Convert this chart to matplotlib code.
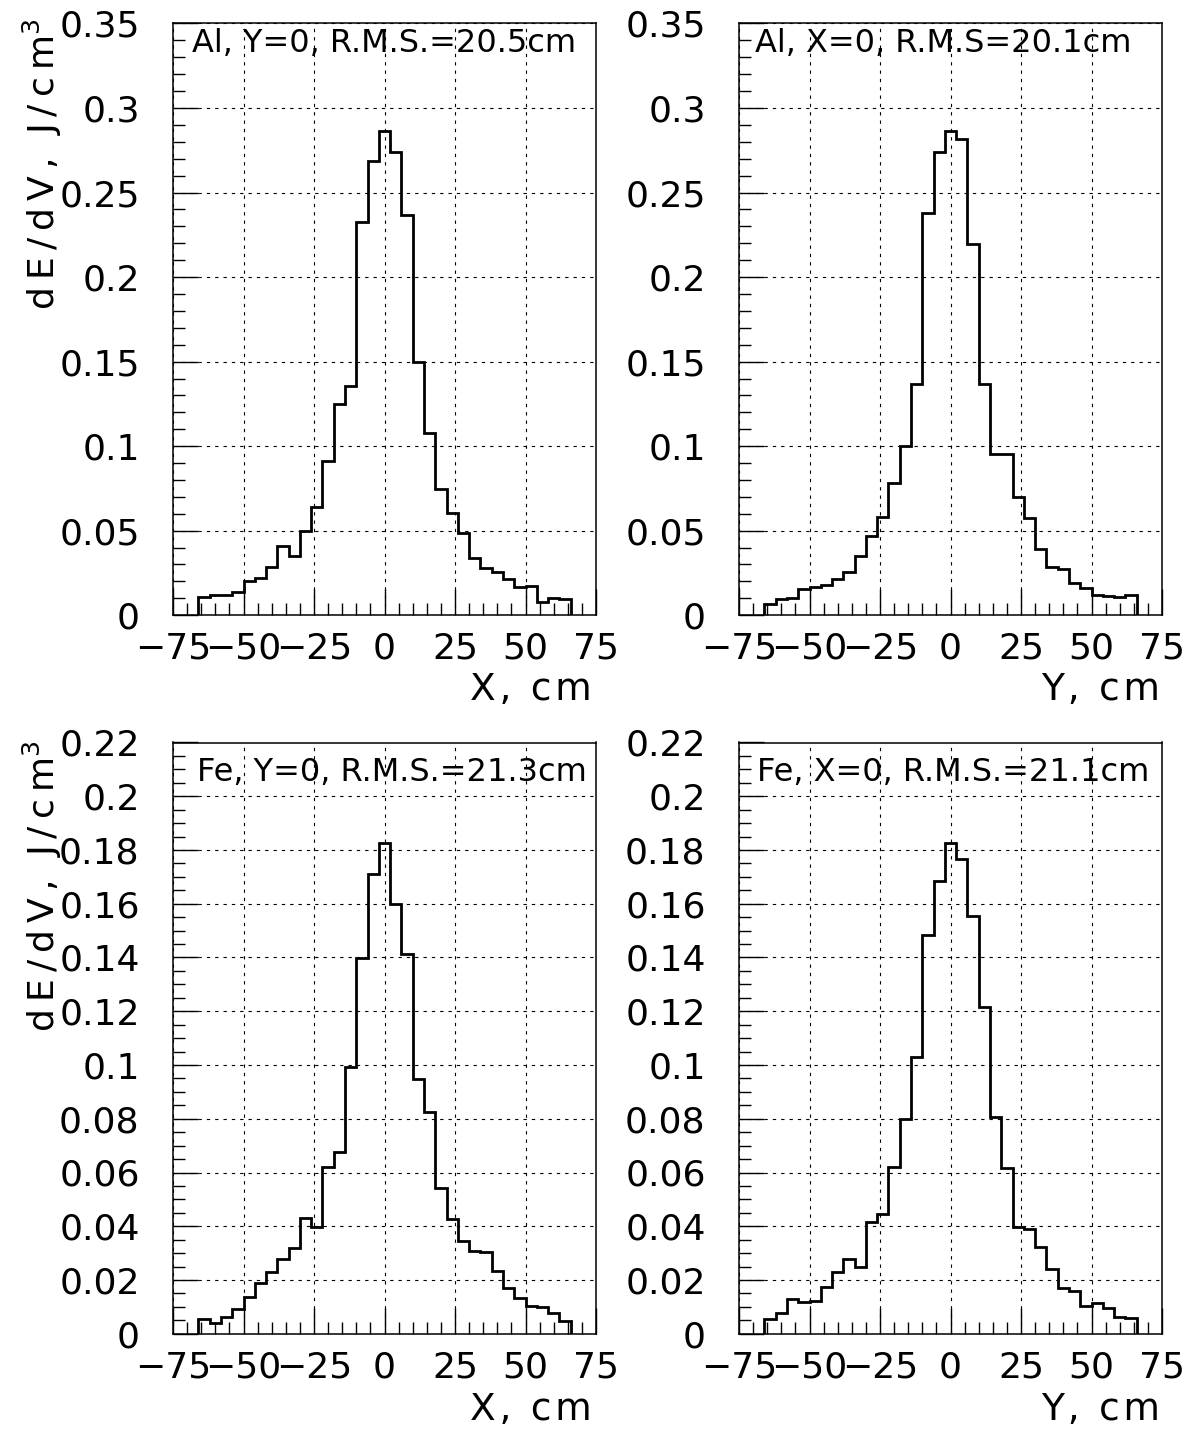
import matplotlib
matplotlib.use('Agg')
import matplotlib.pyplot as plt
from matplotlib.ticker import MultipleLocator, FuncFormatter

# ---------------- data ----------------
bin_edges = [-66, -62, -58, -54, -50, -46, -42, -38, -34, -30, -26, -22, -18, -14, -10, -6, -2,
             2, 6, 10, 14, 18, 22, 26, 30, 34, 38, 42, 46, 50, 54, 58, 62, 66]

al_y0 = [0.0110, 0.0120, 0.0120, 0.0135, 0.0202, 0.0218, 0.0287, 0.0410, 0.0352, 0.0500,
         0.0639, 0.0913, 0.1250, 0.1357, 0.2327, 0.2687, 0.2862, 0.2742, 0.2369, 0.1495,
         0.1080, 0.0745, 0.0603, 0.0488, 0.0337, 0.0281, 0.0258, 0.0212, 0.0169, 0.0173,
         0.0080, 0.0102, 0.0094]

al_x0 = [0.0066, 0.0098, 0.0104, 0.0157, 0.0165, 0.0177, 0.0214, 0.0258, 0.0349, 0.0469,
         0.0580, 0.0784, 0.1003, 0.1367, 0.2379, 0.2738, 0.2862, 0.2817, 0.2197, 0.1368,
         0.0954, 0.0954, 0.0698, 0.0573, 0.0390, 0.0283, 0.0275, 0.0192, 0.0159, 0.0121,
         0.0115, 0.0108, 0.0120]

fe_y0 = [0.0054, 0.0041, 0.0063, 0.0092, 0.0136, 0.0190, 0.0231, 0.0277, 0.0320, 0.0430,
         0.0398, 0.0619, 0.0677, 0.0994, 0.1397, 0.1710, 0.1825, 0.1599, 0.1414, 0.0947,
         0.0826, 0.0541, 0.0427, 0.0345, 0.0308, 0.0303, 0.0233, 0.0169, 0.0134, 0.0104,
         0.0101, 0.0076, 0.0047]

fe_x0 = [0.0054, 0.0078, 0.0129, 0.0117, 0.0123, 0.0175, 0.0229, 0.0278, 0.0247, 0.0414,
         0.0446, 0.0622, 0.0799, 0.1029, 0.1484, 0.1683, 0.1825, 0.1767, 0.1554, 0.1215,
         0.0808, 0.0618, 0.0396, 0.0389, 0.0322, 0.0241, 0.0169, 0.0159, 0.0104, 0.0116,
         0.0095, 0.0063, 0.0059]

titles = ["Al, Y=0, R.M.S.=20.5cm", "Al, X=0, R.M.S=20.1cm",
          "Fe, Y=0, R.M.S.=21.3cm", "Fe, X=0, R.M.S.=21.1cm"]
xlabels = ["X, cm", "Y, cm", "X, cm", "Y, cm"]
ylabel_main = "dE/dV,"
ylabel_unit = "J/cm"

# ---------------- style ----------------
plt.rcParams['font.family'] = ['DejaVu Sans']
plt.rcParams['mathtext.default'] = 'regular'


def track(s, sp='\u200a'):
    # slightly wider letter spacing, like the original stroke font
    return sp.join(s)


W, H = 1195, 1435
fig = plt.figure(figsize=(W / 100, H / 100), dpi=100)


def axrect(l, r, t, b):
    return [l / W, 1 - b / H, (r - l) / W, (b - t) / H]


rects = [axrect(173, 596, 23.5, 615.2), axrect(739, 1162, 23.5, 615.2),
         axrect(173, 596, 742.5, 1333.75), axrect(739, 1162, 742.5, 1333.75)]
series = [al_y0, al_x0, fe_y0, fe_x0]
ymax = [0.35, 0.35, 0.22, 0.22]
ymaj = [0.05, 0.05, 0.02, 0.02]
ymin = [0.01, 0.01, 0.005, 0.005]
txt_pos = [(0.045, 0.967), (0.038, 0.967), (0.057, 0.950), (0.043, 0.950)]


def yfmt(v, pos):
    return ('%g' % round(v, 4))


def xfmt(v, pos):
    return ('%d' % round(v)).replace('-', '\u2212')


for i in range(4):
    ax = fig.add_axes(rects[i])
    ax.stairs(series[i], bin_edges, baseline=0, color='black', linewidth=2.0)
    ax.set_xlim(-75, 75)
    ax.set_ylim(0, ymax[i])
    ax.xaxis.set_major_locator(MultipleLocator(25))
    ax.xaxis.set_minor_locator(MultipleLocator(5))
    ax.yaxis.set_major_locator(MultipleLocator(ymaj[i]))
    ax.yaxis.set_minor_locator(MultipleLocator(ymin[i]))
    ax.xaxis.set_major_formatter(FuncFormatter(xfmt))
    ax.yaxis.set_major_formatter(FuncFormatter(yfmt))
    ax.tick_params(axis='both', which='both', direction='in', top=False, right=False,
                   color='black', width=1.0)
    ax.tick_params(axis='x', which='major', length=19, pad=12, labelsize=26)
    ax.tick_params(axis='x', which='minor', length=8.6)
    ax.tick_params(axis='y', which='major', length=18, pad=24, labelsize=26)
    ax.tick_params(axis='y', which='minor', length=8.6)
    ax.grid(True, which='major', color='black', linestyle=(0, (3, 4.5)), linewidth=0.8)
    for sp in ax.spines.values():
        sp.set_linewidth(1.1)
    ax.text(txt_pos[i][0], txt_pos[i][1], titles[i], transform=ax.transAxes,
            ha='left', va='center', fontsize=23)

# axis titles
xl_pos = [(592, 690), (1160, 690), (592, 1410), (1160, 1410)]
for (px, py), lab in zip(xl_pos, xlabels):
    fig.text(px / W, 1 - py / H, track(lab), ha='right', va='center', fontsize=27)

ylab = track(ylabel_main, '\u2009') + '  ' + track(ylabel_unit, '\u2009') + '$^3$'
fig.text(42 / W, 1 - 18 / H, ylab, rotation=90, ha='center', va='top', fontsize=26)
fig.text(42 / W, 1 - 740 / H, ylab, rotation=90, ha='center', va='top', fontsize=26)

fig.savefig('out.png', dpi=100, facecolor='white')
